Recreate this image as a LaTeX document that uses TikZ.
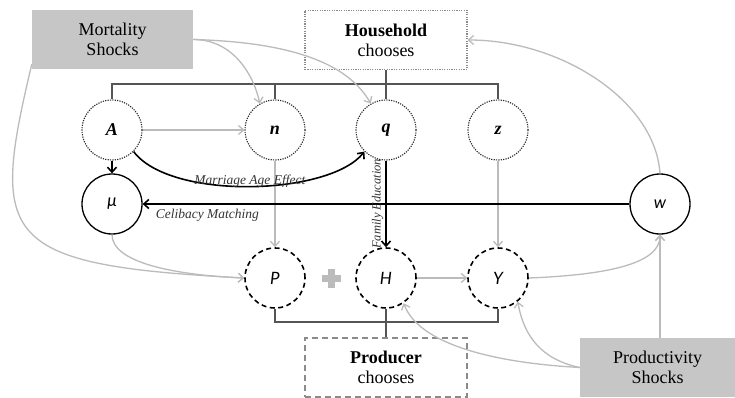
\documentclass[tikz,border=0pt]{standalone}
\usepackage{fontspec}
\setmainfont{Liberation Serif}
\newfontfamily\carl{Lato}
\usetikzlibrary{arrows.meta}
\definecolor{shockfill}{HTML}{C6C6C6}
\definecolor{lightarrow}{HTML}{BBBBBB}
\definecolor{barcol}{HTML}{555555}
\definecolor{boxline}{HTML}{8A8A8A}
\begin{document}
\begin{tikzpicture}[x=1pt,y=-1pt,
  shock/.style={fill=shockfill, minimum width=161pt, minimum height=59pt, align=center, inner sep=0pt,
    font=\fontsize{18}{20}\selectfont},
  choicebox/.style={minimum width=162pt, minimum height=59pt, align=center, inner sep=0pt,
    font=\fontsize{18}{20}\selectfont},
  var/.style={circle, minimum size=60pt, inner sep=0pt, font=\fontsize{18}{18}\selectfont\bfseries\itshape},
  hvar/.style={var, draw=black!85, line width=1.1pt, dash pattern=on 1.2pt off 1.2pt},
  pvar/.style={var, draw=black, line width=1.6pt, dash pattern=on 5pt off 3.5pt, font=\fontsize{17}{17}\selectfont\carl\itshape},
  svar/.style={var, draw=black, line width=1.3pt, font=\fontsize{17}{17}\selectfont\carl\itshape},
  bar/.style={draw=barcol, line width=1.4pt},
  garrow/.style={draw=lightarrow, line width=1.3pt, -{Straight Barb[length=5pt,width=9pt]}},
  barrow/.style={draw=black, line width=1.6pt, -{Straight Barb[length=5pt,width=9pt]}},
  lab/.style={font=\fontsize{13.5}{14}\selectfont\itshape, text=black!80, inner sep=1pt}
]
\useasboundingbox (0,0) rectangle (735,398);

% boxes
\node[shock] (ms) at (112.5,39.5) {Mortality\\Shocks};
\node[shock, minimum width=155pt] (ps) at (657.5,367.5) {Productivity\\Shocks};
\node[choicebox, draw=boxline, line width=1.3pt, dash pattern=on 1.2pt off 1.2pt] (hh) at (386,40) {\textbf{Household}\\chooses};
\node[choicebox, draw=boxline, line width=1.6pt, dash pattern=on 6pt off 4pt] (pr) at (386,367.5) {\textbf{Producer}\\chooses};

% circles
\node[hvar] (A) at (112,130) {A};
\node[hvar] (n) at (275,130) {n};
\node[hvar] (q) at (386,130) {q};
\node[hvar] (z) at (498,130) {z};
\node[svar] (mu) at (112,204) {μ};
\node[svar] (w) at (660,204) {w};
\node[pvar] (P) at (275,278) {P};
\node[pvar] (H) at (386,278) {H};
\node[pvar] (Y) at (498,278) {Y};

\coordinate (hb) at (0,84);
\coordinate (pb) at (0,322);

% household bracket
\draw[bar] (A.north) -- (A.north |- hb) -- (z.north |- hb) -- (z.north);
\draw[bar] (n.north) -- (n.north |- hb);
\draw[bar] (q.north) -- (q.north |- hb);
\draw[bar] (hh.south) -- (hh.south |- hb);

% producer bracket
\draw[bar] (P.south) -- (P.south |- pb) -- (Y.south |- pb) -- (Y.south);
\draw[bar] (H.south) -- (H.south |- pb);
\draw[bar] (pr.north) -- (pr.north |- pb);

% plus sign
\fill[lightarrow] (322,275) rectangle (341,282);
\fill[lightarrow] (328,269) rectangle (335,288);

% light arrows
\draw[garrow] (ms.east) .. controls +(42,0) and +(-5,-25) .. (n.120);
\draw[garrow] (ms.east) .. controls +(110,3) and +(-20,-35) .. (q.120);
\draw[garrow] ([yshift=5pt]ms.south west) .. controls +(-42,176) and +(-245,-13) .. (P.west);
\draw[garrow] (mu.south) .. controls +(0,28) and +(-70,-3) .. (P.west);
\draw[garrow] (A.east) -- (n.west);
\draw[garrow] (n.south) -- (P.north);
\draw[garrow] (z.south) -- (Y.north);
\draw[garrow] (H.east) -- (Y.west);
\draw[garrow] (Y.east) .. controls +(75,-3) and +(0,30) .. (w.south);
\draw[garrow] (w.south |- ps.north) -- (w.south);
\draw[garrow] (w.north) .. controls +(-5,-73) and +(93,0) .. (hh.east);
\draw[garrow] (ps.west) .. controls +(-90,-5) and +(15,40) .. (H.-55);
\draw[garrow] (ps.west) .. controls +(-38,-8) and +(6,35) .. (Y.-50);

% black arrows
\draw[barrow] (A.south) -- (mu.north);
\draw[barrow] (A.-45) .. controls +(37,49) and +(-35,44) .. (q.-135)
  node[lab, pos=0.5, above=-3pt] {Marriage Age Effect};
\draw[barrow] (w.west) -- (mu.east)
  node[lab, pos=0.867, below=3pt] {Celibacy Matching};
\draw[barrow] (q.south) -- (H.north)
  node[lab, pos=0.5, rotate=90, above=1pt, font=\fontsize{12.5}{13}\selectfont\itshape] {Family Education};
\end{tikzpicture}
\end{document}
